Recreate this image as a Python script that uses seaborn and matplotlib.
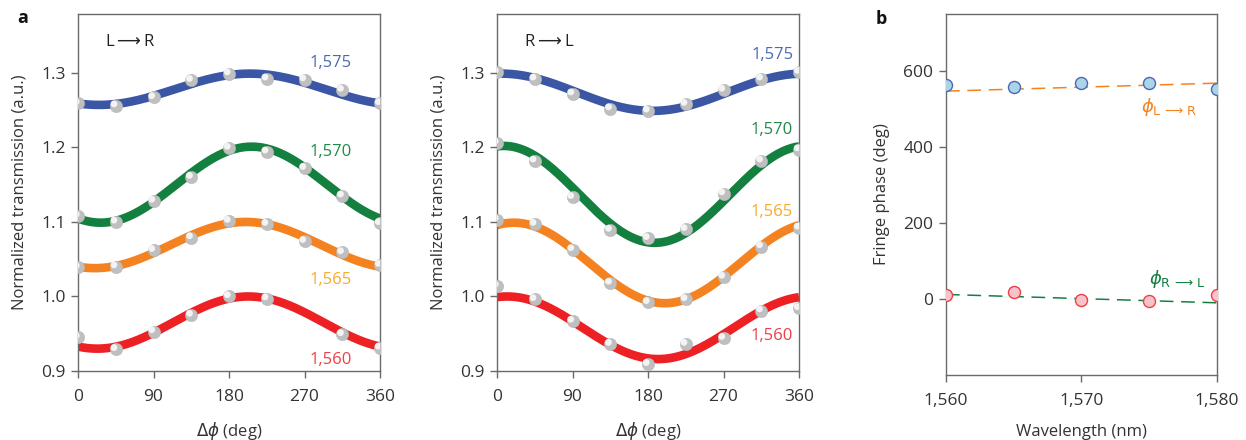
import numpy as np
import pandas as pd
import matplotlib
matplotlib.use("Agg")
import matplotlib.pyplot as plt
import matplotlib.transforms as mtransforms
import seaborn as sns

# ---------------- data ----------------
wavelengths = ["1,560", "1,565", "1,570", "1,575"]
dphi = [0, 45, 90, 135, 180, 225, 270, 315, 360]

# panel a, L -> R measured points
lr_1560 = [0.945, 0.929, 0.953, 0.975, 1.000, 0.997, np.nan, 0.949, 0.931]
lr_1565 = [1.039, 1.040, 1.062, 1.079, 1.101, 1.097, 1.074, 1.059, 1.042]
lr_1570 = [1.108, 1.100, 1.128, 1.160, 1.199, 1.194, 1.172, 1.135, 1.098]
lr_1575 = [1.259, 1.256, 1.267, 1.290, 1.299, 1.292, 1.291, 1.277, 1.259]

# panel a, R -> L measured points
rl_1560 = [1.014, 0.996, 0.967, 0.936, 0.909, 0.936, 0.944, 0.981, 0.984]
rl_1565 = [1.103, 1.097, 1.063, 1.018, 0.992, 0.996, 1.026, 1.067, 1.092]
rl_1570 = [1.206, 1.182, 1.133, 1.089, 1.078, 1.090, 1.138, 1.182, 1.197]
rl_1575 = [1.301, 1.292, 1.272, 1.252, 1.249, 1.258, 1.277, 1.292, 1.301]

# sinusoidal fringe fits: offset, amplitude, phase of maximum (deg)
lr_fit_offset = [0.965, 1.069, 1.150, 1.278]
lr_fit_amp = [0.035, 0.031, 0.051, 0.021]
lr_fit_phase = [203, 200, 207, 205]
rl_fit_offset = [0.958, 1.045, 1.137, 1.274]
rl_fit_amp = [0.042, 0.054, 0.065, 0.025]
rl_fit_phase = [12, 20, 8, 5]

# panel b
wl_nm = [1560, 1565, 1570, 1575, 1580]
phase_lr = [564, 559, 568, 569, 553]
phase_rl = [11, 19, -2, -5, 11]
fit_wl = [1560, 1580]
fit_lr = [547, 568]
fit_rl = [12, -10]

line_colors = ["#ed2024", "#f58220", "#138040", "#3a56a5"]
label_colors = ["#ef3e46", "#f9aa2a", "#1e8a48", "#4c68b2"]

# ---------------- style ----------------
sns.set_theme(style="white")
plt.rcParams["font.family"] = ["Open Sans", "DejaVu Sans"]
plt.rcParams["mathtext.fontset"] = "dejavusans"
TXT = "#333333"
SPINE = "#6a6a6a"

fig = plt.figure(figsize=(12.46, 4.40), dpi=100)
ax1 = fig.add_axes([0.0626, 0.1568, 0.2424, 0.8114])
ax2 = fig.add_axes([0.3989, 0.1568, 0.2424, 0.8114])
ax3 = fig.add_axes([0.7592, 0.1477, 0.2175, 0.8205])

xfine = np.linspace(0, 360, 361)


def fringe_panel(ax, points, offs, amps, phases, lab_x, lab_y, lab_ha, arrow_text):
    for i, wl in enumerate(wavelengths):
        fit = offs[i] + amps[i] * np.cos(np.deg2rad(xfine - phases[i]))
        sns.lineplot(x=xfine, y=fit, ax=ax, color=line_colors[i], lw=6.2,
                     solid_capstyle="butt", zorder=2)
        df = pd.DataFrame({"x": dphi, "y": points[i]}).dropna()
        sns.scatterplot(data=df, x="x", y="y", ax=ax, s=80, color="#bfbfbf",
                        edgecolor="#b3b3b3", linewidth=0.3, zorder=3)
        sns.scatterplot(data=df, x="x", y="y", ax=ax, s=24, color="#f3f3f3",
                        edgecolor="none", linewidth=0, zorder=4)
        hl = ax.collections[-1]
        hl.set_offset_transform(mtransforms.offset_copy(ax.transData, fig=fig, x=-1.3,
                                                        y=1.3, units="points"))
        ax.text(lab_x[i], lab_y[i], wl, color=label_colors[i], fontsize=12,
                ha=lab_ha, va="center")
    ax.text(32, 1.342, arrow_text, fontsize=12, color="#222222", ha="left", va="center")
    ax.set_xlim(0, 360)
    ax.set_ylim(0.9, 1.379)
    ax.set_xticks([0, 90, 180, 270, 360])
    ax.set_yticks([0.9, 1.0, 1.1, 1.2, 1.3])
    ax.set_yticklabels(["0.9", "1.0", "1.1", "1.2", "1.3"])
    ax.set_xlabel(r"$\Delta\phi$ (deg)", fontsize=12, color=TXT, labelpad=11)
    ax.set_ylabel("Normalized transmission (a.u.)", fontsize=12, color=TXT, labelpad=10)


fringe_panel(ax1, [lr_1560, lr_1565, lr_1570, lr_1575], lr_fit_offset, lr_fit_amp,
             lr_fit_phase, [301, 301, 301, 301], [0.915, 1.022, 1.194, 1.313], "center",
             "L$\\longrightarrow$R")
fringe_panel(ax2, [rl_1560, rl_1565, rl_1570, rl_1575], rl_fit_offset, rl_fit_amp,
             rl_fit_phase, [353, 353, 353, 353], [0.947, 1.113, 1.223, 1.324], "right",
             "R$\\longrightarrow$L")

# panel b
sns.lineplot(x=fit_wl, y=fit_lr, ax=ax3, color="#f58220", lw=1.1,
             zorder=2).lines[-1].set_dashes([9, 5])
sns.lineplot(x=fit_wl, y=fit_rl, ax=ax3, color="#138040", lw=1.1,
             zorder=2).lines[-1].set_dashes([9, 5])
sns.scatterplot(x=wl_nm, y=phase_lr, ax=ax3, s=75, color="#a9d5e6", edgecolor="#4c68b2",
                linewidth=1.0, zorder=3)
sns.scatterplot(x=wl_nm, y=phase_rl, ax=ax3, s=75, color="#f6c3cb", edgecolor="#ef3e46",
                linewidth=1.0, zorder=3)
ax3.text(1574.4, 505, r"$\phi_{\mathrm{L}\,\longrightarrow\,\mathrm{R}}$", color="#f58220",
         fontsize=13, ha="left", va="center")
ax3.text(1575.0, 52, r"$\phi_{\mathrm{R}\,\longrightarrow\,\mathrm{L}}$", color="#138040",
         fontsize=13, ha="left", va="center")
ax3.set_xlim(1560, 1580)
ax3.set_ylim(-200, 750)
ax3.set_xticks([1560, 1570, 1580])
ax3.set_xticklabels(["1,560", "1,570", "1,580"])
ax3.set_yticks([0, 200, 400, 600])
ax3.set_xlabel("Wavelength (nm)", fontsize=12, color=TXT, labelpad=11)
ax3.set_ylabel("Fringe phase (deg)", fontsize=12, color=TXT, labelpad=10)

for ax in (ax1, ax2, ax3):
    for sp in ax.spines.values():
        sp.set_color(SPINE)
        sp.set_linewidth(1.0)
        sp.set_visible(True)
    ax.tick_params(axis="both", direction="out", length=5, width=1.0, color=SPINE,
                   labelsize=12.5, labelcolor=TXT, left=True, bottom=True)
    ax.tick_params(axis="x", pad=8)
    ax.tick_params(axis="y", pad=4)
    ax.grid(False)
    leg = ax.get_legend()
    if leg:
        leg.remove()

fig.text(0.014, 0.948, "a", fontsize=13, fontweight="bold", color="#111111")
fig.text(0.703, 0.945, "b", fontsize=13, fontweight="bold", color="#111111")

fig.savefig("out.png", dpi=100)
